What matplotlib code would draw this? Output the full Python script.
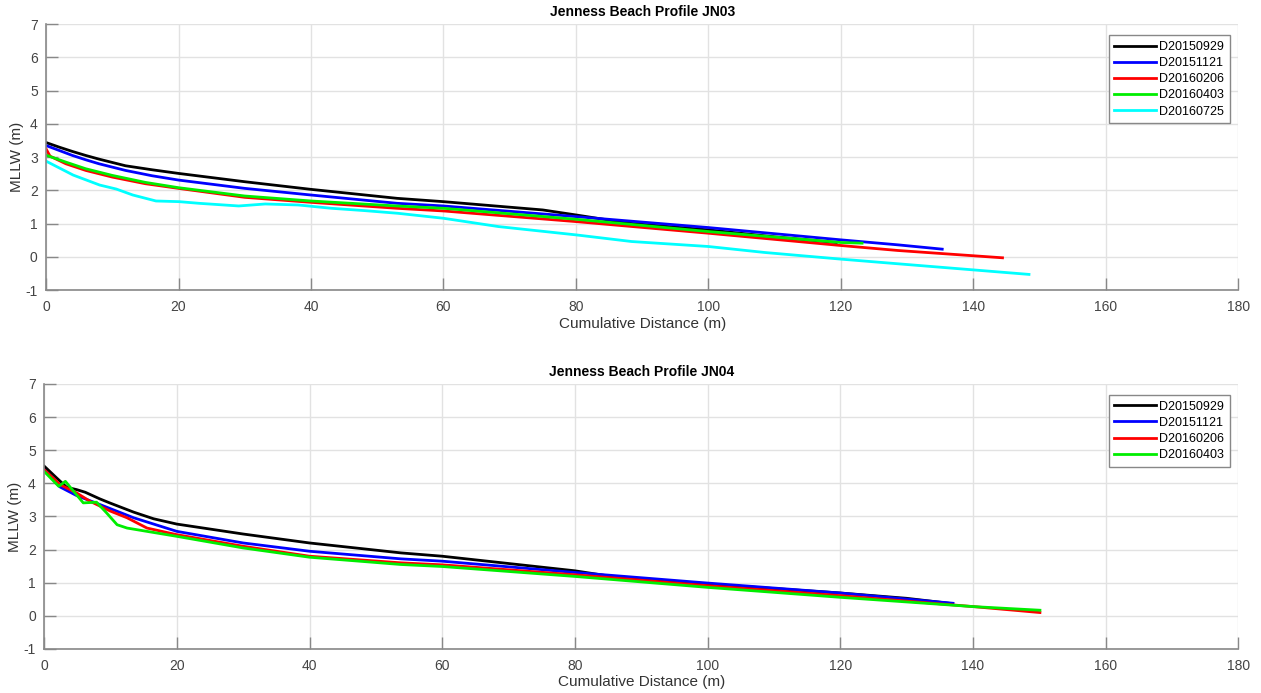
import numpy as np
import matplotlib.pyplot as plt

plt.rcParams['font.family'] = ['Liberation Sans', 'DejaVu Sans']
plt.rcParams['axes.unicode_minus'] = False

# JN03 profiles (distance m, elevation m MLLW)
jn03_labels = ['D20150929', 'D20151121', 'D20160206', 'D20160403', 'D20160725']

jn03_x_0929 = [0, 2, 4, 6, 8, 12, 16, 20, 30, 40, 53, 60, 75, 80, 88, 100, 110, 119.3]
jn03_y_0929 = [3.44, 3.3, 3.17, 3.05, 2.94, 2.74, 2.62, 2.51, 2.26, 2.03, 1.76, 1.66, 1.41, 1.26, 1.01,
               0.81, 0.6, 0.43]

jn03_x_1121 = [0, 2, 4, 6, 8, 12, 16, 20, 30, 40, 53, 60, 80, 100, 120, 128.6, 135.3]
jn03_y_1121 = [3.35, 3.2, 3.05, 2.92, 2.8, 2.6, 2.44, 2.31, 2.06, 1.86, 1.61, 1.53, 1.21, 0.88, 0.51,
               0.36, 0.23]

jn03_x_0206 = [0, 0.6, 3, 6, 10, 15, 20, 30, 40, 53, 60, 80, 100, 120, 128.6, 144.4]
jn03_y_0206 = [3.25, 3.03, 2.8, 2.6, 2.4, 2.2, 2.06, 1.79, 1.64, 1.46, 1.38, 1.06, 0.71, 0.34, 0.19, -0.03]

jn03_x_0403 = [0, 3, 6, 10, 15, 20, 30, 40, 53, 60, 80, 100, 120, 123.2]
jn03_y_0403 = [3.06, 2.85, 2.65, 2.45, 2.24, 2.08, 1.83, 1.68, 1.53, 1.46, 1.13, 0.76, 0.43, 0.41]

jn03_x_0725 = [0, 4.1, 8.1, 10.6, 13.1, 16.6, 20.1, 23.1, 29.1, 33.1, 38.1, 43.1, 48.1,
               53.1, 60, 68.3, 80, 88.4, 100, 108.5, 120, 128.6, 148.4]
jn03_y_0725 = [2.88, 2.46, 2.16, 2.04, 1.86, 1.68, 1.66, 1.61, 1.53, 1.59, 1.56, 1.46, 1.39,
               1.31, 1.16, 0.91, 0.66, 0.46, 0.31, 0.13, -0.07, -0.21, -0.53]

# JN04 profiles
jn04_labels = ['D20150929', 'D20151121', 'D20160206', 'D20160403']

jn04_x_0929 = [0, 1.9, 3.4, 4.9, 6.2, 8.4, 10, 13.5, 16.5, 20, 30, 40, 53.8, 60, 80, 85.5, 100, 120,
               130, 136.4]
jn04_y_0929 = [4.52, 4.16, 3.88, 3.81, 3.73, 3.53, 3.4, 3.13, 2.93, 2.77, 2.47, 2.2, 1.9, 1.8, 1.36,
               1.19, 0.96, 0.69, 0.53, 0.38]

jn04_x_1121 = [0, 2.4, 4.9, 8.4, 13.5, 20, 30, 40, 53.8, 60, 80, 100, 120, 137]
jn04_y_1121 = [4.41, 3.89, 3.63, 3.36, 2.96, 2.55, 2.2, 1.95, 1.72, 1.65, 1.31, 0.99, 0.69, 0.38]

jn04_x_0206 = [0, 2.4, 4.9, 6.9, 10, 12.5, 15.5, 20, 30, 40, 53.8, 60, 80, 100, 120, 140, 150.1]
jn04_y_0206 = [4.41, 3.96, 3.71, 3.46, 3.16, 2.96, 2.65, 2.45, 2.1, 1.8, 1.6, 1.54, 1.24, 0.91, 0.61, 0.28, 0.1]

jn04_x_0403 = [0, 2.2, 3.2, 5.9, 7.9, 9.4, 11, 12.5, 20, 30, 40, 53.8, 60, 80, 100, 120, 140, 150.1]
jn04_y_0403 = [4.36, 3.91, 4.06, 3.41, 3.43, 3.11, 2.75, 2.65, 2.4, 2.05, 1.77, 1.55, 1.49, 1.19, 0.86,
               0.56, 0.28, 0.17]

colors = ['#000000', '#0000ff', '#ff0000', '#00ee00', '#00ffff']

jn03 = [(jn03_x_0929, jn03_y_0929), (jn03_x_1121, jn03_y_1121), (jn03_x_0206, jn03_y_0206),
        (jn03_x_0403, jn03_y_0403), (jn03_x_0725, jn03_y_0725)]
jn04 = [(jn04_x_0929, jn04_y_0929), (jn04_x_1121, jn04_y_1121), (jn04_x_0206, jn04_y_0206),
        (jn04_x_0403, jn04_y_0403)]

fig = plt.figure(figsize=(12.61, 6.93), dpi=100)
ax1 = fig.add_axes([0.0365, 0.5815, 0.9455, 0.3835])
ax2 = fig.add_axes([0.035, 0.0635, 0.947, 0.3825])


def style_axes(ax, title):
    ax.set_xlim(0, 180)
    ax.set_ylim(-1, 7)
    ax.set_xticks(np.arange(0, 181, 20))
    ax.set_yticks(np.arange(-1, 8, 1))
    ax.grid(True, color='#e2e2e2', linewidth=1)
    ax.set_axisbelow(True)
    for s in ['top', 'right']:
        ax.spines[s].set_visible(False)
    for s in ['left', 'bottom']:
        ax.spines[s].set_color('#888888')
        ax.spines[s].set_linewidth(1.2)
    ax.tick_params(direction='in', length=8.5, width=1, color='#888888',
                   labelcolor='#444444', labelsize=10)
    ax.tick_params(axis='x', pad=7)
    ax.tick_params(axis='y', pad=6)
    ax.set_xlabel('Cumulative Distance (m)', fontsize=11, color='#333333', labelpad=2)
    ax.set_ylabel('MLLW (m)', fontsize=11, color='#333333', labelpad=1)
    ax.set_title(title, fontsize=10, fontweight='bold', pad=6)


for (x, y), lab, c in zip(jn03, jn03_labels, colors):
    ax1.plot(x, y, color=c, linewidth=2, label=lab)
style_axes(ax1, 'Jenness Beach Profile JN03')

for (x, y), lab, c in zip(jn04, jn04_labels, colors):
    ax2.plot(x, y, color=c, linewidth=2, label=lab)
style_axes(ax2, 'Jenness Beach Profile JN04')

for ax in (ax1, ax2):
    leg = ax.legend(loc='upper right', bbox_to_anchor=(0.993, 0.958), fontsize=9,
                    fancybox=False, framealpha=1, edgecolor='#888888',
                    handlelength=3.3, handletextpad=0.3, borderpad=0.45,
                    labelspacing=0.33, borderaxespad=0)
    leg.get_frame().set_linewidth(1)

fig.savefig('out.png', dpi=100)
